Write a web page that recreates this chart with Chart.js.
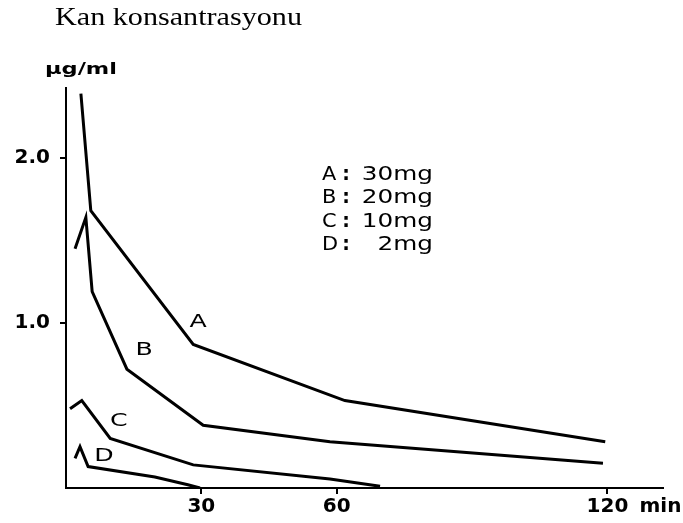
<!DOCTYPE html>
<html>
<head>
<meta charset="utf-8">
<script src="https://cdn.jsdelivr.net/npm/chart.js@4/dist/chart.umd.min.js"></script>
<style>
	html, body { margin: 0; padding: 0; background: #fff; }
	canvas { display: block; }
</style>
</head>
<body>
<canvas id="bloodChart" width="683" height="523"></canvas>
<script>
// 시간(min) / 혈중 농도(µg/ml) - 그림에서 읽은 값
let timeA = [3.3, 5.5, 28.2, 61.8, 119.5];
let concA = [2.39, 1.68, 0.87, 0.53, 0.28];

let timeB = [2.0, 4.4, 5.8, 13.5, 30.4, 58.5, 119.0];
let concB = [1.45, 1.64, 1.19, 0.72, 0.38, 0.28, 0.15];

let timeC = [0.9, 3.5, 9.8, 28.2, 58.5, 69.6];
let concC = [0.48, 0.53, 0.30, 0.14, 0.055, 0.01];

let timeD = [2.0, 3.1, 4.9, 19.7, 27.0, 29.7];
let concD = [0.18, 0.25, 0.13, 0.067, 0.02, 0.0];

// 축 눈금
let xTicks = [30, 60, 120];
let yTicks = [1.0, 2.0];

// 곡선 위 라벨 (A~D) 위치
let curveNames = ['A', 'B', 'C', 'D'];
let curveLabelTime = [29.3, 17.3, 11.7, 8.4];
let curveLabelConc = [1.006, 0.836, 0.406, 0.194];

// 범례 텍스트
let doseLetters = ['A', 'B', 'C', 'D'];
let doseValues = ['30mg', '20mg', '10mg', '2mg'];

let titleText = 'Kan konsantrasyonu';
let unitText = 'μg/ml';
let xUnitText = 'min';

let toPoints = function(times, concs) {
	return times.map(function(t, i) {
		return { x: t, y: concs[i] };
	});
};

let curve = function(times, concs) {
	return {
		data: toPoints(times, concs),
		borderColor: '#000',
		borderWidth: 3,
		pointRadius: 0,
		tension: 0,
		fill: false
	};
};

// 가로로 늘린 글자 그리기
let drawText = function(ctx, text, x, y, font, align, stretch) {
	ctx.save();
	ctx.font = font;
	ctx.textAlign = align;
	ctx.translate(x, y);
	ctx.scale(stretch, 1);
	ctx.fillText(text, 0, 0);
	ctx.restore();
};

let drawFit = function(ctx, text, x, y, font, width) {
	ctx.save();
	ctx.font = font;
	let w = ctx.measureText(text).width;
	ctx.restore();
	drawText(ctx, text, x, y, font, 'left', width / w);
};

let textPlugin = {
	id: 'figureText',
	afterDraw: function(chart) {
		let ctx = chart.ctx;
		let xs = chart.scales.x;
		let ys = chart.scales.y;
		ctx.save();
		ctx.fillStyle = '#000';
		ctx.textBaseline = 'alphabetic';

		drawFit(ctx, titleText, 55, 25, '26px "Liberation Serif"', 247);
		drawFit(ctx, unitText, 45, 74, 'bold 15px "DejaVu Sans"', 72);

		// x축 단위
		ctx.textBaseline = 'middle';
		drawText(ctx, xUnitText, xs.getPixelForValue(120) + 32, 507, 'bold 20px "DejaVu Sans"', 'left', 1.0);

		// 곡선 라벨
		for (let i = 0; i < curveNames.length; i++) {
			drawText(ctx, curveNames[i], xs.getPixelForValue(curveLabelTime[i]),
				ys.getPixelForValue(curveLabelConc[i]), '18px "DejaVu Sans"', 'center', 1.4);
		}

		// 범례
		ctx.textBaseline = 'alphabetic';
		for (let i = 0; i < doseLetters.length; i++) {
			let y = 180 + i * 23.3;
			drawText(ctx, doseLetters[i], 322, y, '19px "DejaVu Sans"', 'left', 1.1);
			drawText(ctx, ':', 346, y, 'bold 19px "DejaVu Sans"', 'center', 1.0);
			drawText(ctx, doseValues[i], 433, y, '19px "DejaVu Sans"', 'right', 1.3);
		}
		ctx.restore();
	}
};

let axisGrid = {
	drawOnChartArea: false,
	drawTicks: true,
	tickLength: 6,
	color: '#000',
	lineWidth: 2
};

let bloodChart = new Chart(document.getElementById('bloodChart'), {
	type: 'line',
	data: {
		datasets: [
			curve(timeA, concA),
			curve(timeB, concB),
			curve(timeC, concC),
			curve(timeD, concD)
		]
	},
	options: {
		responsive: false,
		animation: false,
		layout: {
			padding: { top: 88, right: 20, left: 0, bottom: 0 }
		},
		plugins: {
			legend: { display: false },
			tooltip: { enabled: false }
		},
		scales: {
			x: {
				type: 'linear',
				min: 0,
				max: 132.3,
				grid: axisGrid,
				border: { display: true, color: '#000', width: 2 },
				afterBuildTicks: function(scale) {
					scale.ticks = xTicks.map(function(v) { return { value: v }; });
				},
				afterFit: function(scale) {
					scale.height = 35;
				},
				ticks: {
					color: '#000',
					padding: 1,
					maxRotation: 0,
					font: { family: 'DejaVu Sans', size: 20, weight: 'bold' },
					callback: function(v) { return String(v); }
				}
			},
			y: {
				type: 'linear',
				min: 0,
				max: 2.424,
				grid: axisGrid,
				border: { display: true, color: '#000', width: 2 },
				afterBuildTicks: function(scale) {
					scale.ticks = yTicks.map(function(v) { return { value: v }; });
				},
				afterFit: function(scale) {
					scale.width = 66;
				},
				ticks: {
					color: '#000',
					padding: 10,
					font: { family: 'DejaVu Sans', size: 20, weight: 'bold' },
					callback: function(v) { return v.toFixed(1); }
				}
			}
		}
	},
	plugins: [textPlugin]
});
</script>
</body>
</html>
